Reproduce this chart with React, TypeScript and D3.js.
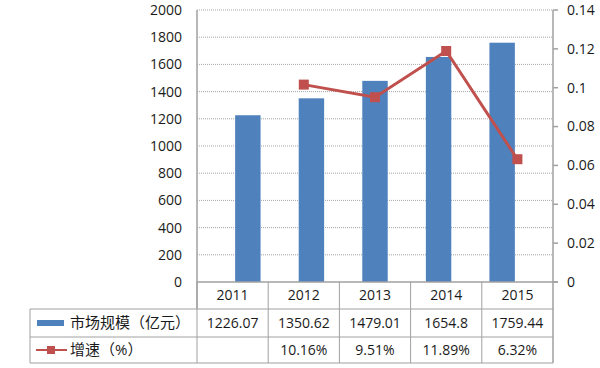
import React from 'react';
import * as d3 from 'd3';

const years = ['2011', '2012', '2013', '2014', '2015'];
const marketSize = [1226.07, 1350.62, 1479.01, 1654.8, 1759.44];
const marketLabels = ['1226.07', '1350.62', '1479.01', '1654.8', '1759.44'];
const growth: (number | null)[] = [null, 0.1016, 0.0951, 0.1189, 0.0632];
const growthLabels = ['', '10.16%', '9.51%', '11.89%', '6.32%'];
const leftTicks = [0, 200, 400, 600, 800, 1000, 1200, 1400, 1600, 1800, 2000];
const rightTicks = [0, 0.02, 0.04, 0.06, 0.08, 0.1, 0.12, 0.14];
const seriesNames = ['市场规模（亿元）', '增速（%）'];

const W = 600;
const H = 368;
const plotL = 197;
const plotR = 553;
const plotT = 10;
const plotB = 282;
const tableL = 30;
const rowH = [27, 28, 26];

const barColor = '#4F81BD';
const lineColor = '#C0504D';
const gridColor = '#A6A6A6';
const textColor = '#1a1a1a';
const font = '"Open Sans", "Noto Sans CJK SC", sans-serif';

export default function App() {
  const xBand = d3.scaleBand<string>().domain(years).range([plotL, plotR]);
  const xBar = d3.scaleBand<string>().domain(years).range([plotL, plotR]).padding(0.6);
  const yLeft = d3.scaleLinear().domain([0, 2000]).range([plotB, plotT]);
  const yRight = d3.scaleLinear().domain([0, 0.14]).range([plotB, plotT]);

  const pts = years
    .map((y, i) => ({ y, v: growth[i] }))
    .filter((d) => d.v !== null) as { y: string; v: number }[];
  const line = d3
    .line<{ y: string; v: number }>()
    .x((d) => (xBand(d.y) as number) + xBand.bandwidth() / 2)
    .y((d) => yRight(d.v));

  const row1 = plotB + rowH[0];
  const row2 = row1 + rowH[1];
  const row3 = row2 + rowH[2];
  const colEdges = years.map((y) => xBand(y) as number);

  return (
    <svg width={W} height={H} style={{ position: 'absolute', left: 0, top: 0, background: '#fff' }}>
      {/* grid */}
      {leftTicks.slice(1).map((t) => (
        <line key={t} x1={plotL} x2={plotR} y1={yLeft(t)} y2={yLeft(t)} stroke={gridColor} strokeWidth={1} strokeDasharray="1,1" />
      ))}
      {/* bars */}
      {years.map((y, i) => (
        <rect key={y} x={xBar(y)} y={yLeft(marketSize[i])} width={xBar.bandwidth()} height={plotB - yLeft(marketSize[i])} fill={barColor} />
      ))}
      {/* axes */}
      <line x1={plotL} x2={plotL} y1={plotT} y2={row1} stroke="#A0A0A0" strokeWidth={1.5} />
      <line x1={plotR} x2={plotR} y1={plotT} y2={row3} stroke="#A0A0A0" strokeWidth={1.5} />
      {rightTicks.map((t) => (
        <line key={t} x1={plotR} x2={plotR + 5} y1={yRight(t)} y2={yRight(t)} stroke="#A0A0A0" strokeWidth={1.5} />
      ))}
      {leftTicks.map((t) => (
        <text key={t} x={182} y={yLeft(t)} dy="0.35em" textAnchor="end" fontFamily={font} fontSize={14} fill={textColor}>
          {t}
        </text>
      ))}
      {rightTicks.map((t) => (
        <text key={t} x={567} y={yRight(t)} dy="0.35em" textAnchor="start" fontFamily={font} fontSize={14} fill={textColor}>
          {d3.format('~g')(+t.toFixed(2))}
        </text>
      ))}
      {/* growth line */}
      <path d={line(pts) || ''} fill="none" stroke={lineColor} strokeWidth={3} />
      {pts.map((d) => (
        <rect key={d.y} x={(xBand(d.y) as number) + xBand.bandwidth() / 2 - 5} y={yRight(d.v) - 5} width={10} height={10} fill={lineColor} />
      ))}
      {/* data table */}
      <g stroke="#A0A0A0" strokeWidth={1}>
        <line x1={plotL} x2={plotR + 5} y1={plotB} y2={plotB} strokeWidth={1.5} />
        <line x1={tableL} x2={plotR} y1={row1} y2={row1} />
        <line x1={tableL} x2={plotR} y1={row2} y2={row2} />
        <line x1={tableL} x2={plotR} y1={row3} y2={row3} />
        <line x1={tableL} x2={tableL} y1={row1} y2={row3} />
        {colEdges.map((x, i) => (
          <line key={i} x1={x} x2={x} y1={plotB} y2={row3} />
        ))}
      </g>
      {years.map((y, i) => {
        const cx = (xBand(y) as number) + xBand.bandwidth() / 2;
        return (
          <g key={y} fontFamily={font} fontSize={14} fill={textColor} textAnchor="middle">
            <text x={cx} y={plotB + rowH[0] / 2} dy="0.35em">{y}</text>
            <text x={cx} y={row1 + rowH[1] / 2} dy="0.35em">{marketLabels[i]}</text>
            <text x={cx} y={row2 + rowH[2] / 2} dy="0.35em">{growthLabels[i]}</text>
          </g>
        );
      })}
      {/* legend keys */}
      <rect x={37} y={row1 + rowH[1] / 2 - 3} width={27} height={6} fill={barColor} />
      <text x={70} y={row1 + rowH[1] / 2} dy="0.35em" fontFamily={font} fontSize={15} fill={textColor}>{seriesNames[0]}</text>
      <line x1={36} x2={67} y1={row2 + rowH[2] / 2} y2={row2 + rowH[2] / 2} stroke={lineColor} strokeWidth={2} />
      <rect x={47} y={row2 + rowH[2] / 2 - 4} width={8} height={8} fill={lineColor} />
      <text x={70} y={row2 + rowH[2] / 2} dy="0.35em" fontFamily={font} fontSize={15} fill={textColor}>{seriesNames[1]}</text>
    </svg>
  );
}
